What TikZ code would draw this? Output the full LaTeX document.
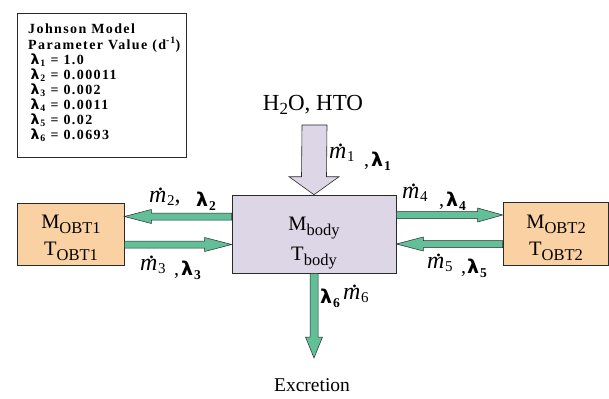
\documentclass[tikz,border=0pt]{standalone}
\usepackage{fontspec}
\setmainfont{Liberation Serif}
\newfontfamily\lfont{DejaVu Sans}[BoldFont={DejaVu Sans Bold}]
\newfontfamily\pfont{Liberation Serif}[LetterSpace=10]
\usetikzlibrary{calc}
\definecolor{lav}{HTML}{DDD6E6}
\definecolor{peach}{HTML}{FAD1A2}
\definecolor{grn}{HTML}{62BF98}
\definecolor{edge}{HTML}{2A2A2A}
\newcommand\harrow[3]{\draw[garrow] ($(#1)+(0,-3.5)$) -- ($(#2)+(#3,-3.5)$) -- ($(#2)+(#3,-7)$) -- (#2) -- ($(#2)+(#3,7)$) -- ($(#2)+(#3,3.5)$) -- ($(#1)+(0,3.5)$) -- cycle;}
\newcommand\mdot[1]{\ooalign{\textit{m}\cr\hidewidth\kern0.22em\raisebox{0.48em}{.}\hidewidth\cr}\kern0.5pt\raisebox{-3pt}{\fontsize{15}{15}\selectfont #1}}
\newcommand\lam[1]{{\fontsize{19}{19}\selectfont\lfont\bfseries λ}\kern1pt\raisebox{-4pt}{\fontsize{13.5}{13.5}\selectfont\bfseries #1}}
\newcommand\plam[1]{{\lfont\bfseries λ}\kern1pt\textsubscript{#1}}
\newcommand\sbs[1]{\raisebox{-5pt}{\fontsize{16.5}{16.5}\selectfont #1}}
\begin{document}
\begin{tikzpicture}[x=1pt,y=-1pt,
  box/.style={draw=edge, line width=0.6pt, inner sep=0pt},
  garrow/.style={draw=edge, line width=0.5pt, fill=grn},
  big/.style={font=\fontsize{20.5}{22}\selectfont, inner sep=0pt, anchor=base},
  lm/.style={font=\fontsize{24}{26}\selectfont, inner sep=0pt, anchor=base west},
  ll/.style={font=\fontsize{20}{22}\selectfont, inner sep=0pt, anchor=base west}]
\useasboundingbox[fill=white] (0,0) rectangle (609,398);
\node[draw=edge, line width=0.6pt, minimum width=169pt, minimum height=144pt, anchor=north west, inner sep=0pt] (param) at (17,13) {};
\node[anchor=north west, inner sep=0pt, align=left, font=\pfont\bfseries\fontsize{14}{15.1}\selectfont] (ptext) at (28,24)
 {Johnson Model\\Parameter Value (d\textsuperscript{-1})\\
  \,\plam{1} = 1.0\\ \,\plam{2} = 0.00011\\ \,\plam{3} = 0.002\\
  \,\plam{4} = 0.0011\\ \,\plam{5} = 0.02\\ \,\plam{6} = 0.0693};
\node[box, fill=lav, minimum width=164pt, minimum height=78pt] (body) at (314,234) {};
\node[big] (bm) at (314,230) {M\sbs{body}};
\node[big] (bt) at (314,260) {T\sbs{body}};
\node[box, fill=peach, minimum width=107pt, minimum height=62pt] (obt1) at (70.5,234) {};
\node[big] (o1m) at (71,228) {M\sbs{OBT1}};
\node[big] (o1t) at (71,255) {T\sbs{OBT1}};
\node[box, fill=peach, minimum width=105pt, minimum height=63pt] (obt2) at (555.5,233.5) {};
\node[big] (o2m) at (556,228) {M\sbs{OBT2}};
\node[big] (o2t) at (556,255) {T\sbs{OBT2}};
\coordinate (a1s) at (314.5,125);
\draw[draw=edge, line width=0.6pt, fill=lav] ($(a1s)+(-12.5,0)$) -- ($(body.north)+(-12.5,-18)$) -- ($(body.north)+(-25,-18)$) -- (body.north) -- ($(body.north)+(25,-18)$) -- ($(body.north)+(12.5,-18)$) -- ($(a1s)+(12.5,0)$) -- cycle;
\coordinate (a2s) at (body.west |- 0,216.5);
\coordinate (a2e) at (obt1.east |- 0,216.5);
\harrow{a2s}{a2e}{27}
\coordinate (a3s) at (obt1.east |- 0,244.5);
\coordinate (a3e) at (body.west |- 0,244.5);
\harrow{a3s}{a3e}{-27}
\coordinate (a4s) at (body.east |- 0,215);
\coordinate (a4e) at (obt2.west |- 0,215);
\harrow{a4s}{a4e}{-25}
\coordinate (a5s) at (obt2.west |- 0,244);
\coordinate (a5e) at (body.east |- 0,244);
\harrow{a5s}{a5e}{27}
\coordinate (a6e) at (314,358);
\draw[garrow] ($(body.south)+(-4,0)$) -- ($(a6e)+(-4,-21)$) -- ($(a6e)+(-8.5,-21)$) -- (a6e) -- ($(a6e)+(8.5,-21)$) -- ($(a6e)+(4,-21)$) -- ($(body.south)+(4,0)$) -- cycle;
\node[font=\fontsize{23}{25}\selectfont, inner sep=0pt] (h2o) at (313,105) {H\raisebox{-4pt}{\fontsize{17}{17}\selectfont 2}O, HTO};
\node[lm] (l1m) at (329,158) {\mdot{1}};
\node[ll] (l1l) at (364,166) {,\kern2pt\lam{1}};
\node[lm] (l2m) at (149,202) {\mdot{2},};
\node[ll] (l2l) at (196,206) {\lam{2}};
\node[lm] (l3m) at (140,270) {\mdot{3}};
\node[ll] (l3l) at (174,275) {,\kern2pt\lam{3}};
\node[lm] (l4m) at (402,198) {\mdot{4}};
\node[ll] (l4l) at (439,206) {,\kern2pt\lam{4}};
\node[lm] (l5m) at (427,268) {\mdot{5}};
\node[ll] (l5l) at (461,273) {,\kern1pt\lam{5}};
\node[ll] (l6l) at (320,303) {\lam{6}};
\node[lm] (l6m) at (343,299) {\mdot{6}};
\node[font=\fontsize{19.5}{21}\selectfont, inner sep=0pt] (exc) at (312,385) {Excretion};
\end{tikzpicture}
\end{document}
